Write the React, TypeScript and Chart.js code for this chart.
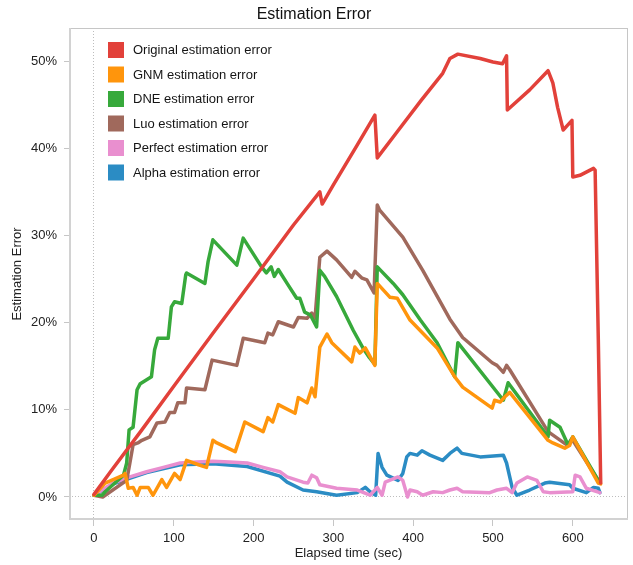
import React, { useEffect, useRef } from "react";
import { Chart, registerables } from "chart.js";

Chart.register(...registerables);

const FONT = "'Liberation Sans', Arial, Helvetica, sans-serif";

// Tick labels
const xTicks = [0, 100, 200, 300, 400, 500, 600];
const yTicks = [0, 10, 20, 30, 40, 50];

// Series names
const seriesNames = [
  "Original estimation error",
  "GNM estimation error",
  "DNE estimation error",
  "Luo estimation error",
  "Perfect estimation error",
  "Alpha estimation error",
];
const seriesColors = ["#e2413a", "#ff950c", "#37a93b", "#a0695c", "#e98fcf", "#2b8cc4"];

// Original (red)
const originalT = [0, 20, 60, 100, 150, 200, 250, 283, 286, 300, 330, 352, 355, 380, 410, 437, 446, 456, 484, 500, 512, 517, 518, 546, 569, 575, 581, 588, 593, 599, 600, 609, 626, 628, 632, 635];
const originalV = [0.3, 2.8, 7.7, 12.7, 18.9, 25.0, 31.2, 35.0, 33.6, 35.8, 40.4, 43.8, 38.9, 41.9, 45.5, 48.6, 50.3, 50.8, 50.3, 49.9, 49.7, 50.6, 44.4, 46.7, 48.9, 47.5, 44.7, 42.1, 42.6, 43.2, 36.7, 36.9, 37.7, 37.5, 18.0, 1.6];

// GNM (orange)
const gnmT = [0, 14, 37, 39, 43, 49, 54, 58, 68, 74, 85, 91, 101, 108, 116, 131, 141, 149, 154, 177, 189, 212, 218, 224, 231, 252, 256, 267, 273, 277, 283, 292, 298, 323, 327, 333, 340, 352, 355, 371, 380, 396, 430, 452, 462, 499, 502, 509, 515, 521, 569, 575, 590, 596, 600, 632, 635];
const gnmV = [0.2, 1.6, 2.5, 2.7, 1.0, 1.1, 0.2, 1.1, 1.1, 0.2, 2.0, 1.1, 2.7, 2.0, 4.2, 3.7, 3.4, 6.5, 6.2, 5.2, 8.6, 7.5, 9.1, 8.6, 10.6, 9.6, 11.4, 10.8, 12.5, 11.5, 17.2, 18.7, 17.7, 15.5, 17.2, 16.5, 17.1, 15.1, 24.5, 22.9, 22.8, 20.3, 17.1, 13.8, 12.6, 10.2, 11.1, 10.9, 11.5, 12.0, 6.5, 6.2, 5.6, 5.9, 6.9, 1.6, 1.5];

// DNE (green)
const dneT = [0, 10, 14, 37, 41, 44, 49, 54, 58, 72, 76, 80, 93, 97, 101, 110, 115, 116, 139, 143, 149, 179, 187, 210, 216, 222, 226, 231, 242, 254, 258, 264, 271, 279, 283, 289, 304, 325, 337, 345, 352, 355, 375, 387, 409, 430, 452, 456, 513, 519, 569, 571, 584, 594, 600, 634];
const dneV = [0.2, 0.2, 0.6, 2.5, 3.9, 7.7, 8.0, 12.3, 13.0, 13.8, 16.9, 18.2, 18.2, 21.8, 22.4, 22.2, 25.5, 25.7, 24.5, 27.0, 29.5, 26.6, 29.7, 26.4, 25.7, 26.4, 25.3, 26.1, 24.5, 22.8, 22.8, 21.2, 20.9, 19.5, 26.0, 25.3, 23.0, 19.1, 17.1, 16.0, 15.2, 26.4, 24.5, 23.2, 20.3, 17.7, 13.8, 17.7, 11.1, 13.1, 6.9, 8.8, 8.0, 6.0, 6.9, 1.6];

// Luo (brown)
const luoT = [0, 11, 41, 45, 49, 55, 60, 70, 79, 89, 95, 101, 105, 114, 116, 139, 148, 179, 187, 214, 218, 224, 231, 250, 256, 267, 273, 277, 283, 292, 304, 323, 327, 336, 342, 351, 355, 358, 387, 412, 446, 462, 499, 505, 513, 517, 521, 569, 592, 600, 634];
const luoV = [0.2, 0.0, 1.9, 3.9, 6.0, 6.2, 6.5, 6.9, 8.5, 8.6, 9.7, 9.7, 10.8, 10.8, 12.5, 12.3, 15.7, 15.1, 18.2, 17.7, 18.8, 18.6, 20.1, 19.5, 20.6, 20.5, 21.1, 20.5, 27.5, 28.2, 27.2, 25.2, 25.9, 25.1, 24.9, 23.4, 33.5, 32.9, 29.8, 26.0, 20.4, 18.3, 15.4, 15.1, 14.3, 15.1, 14.6, 7.5, 6.0, 6.5, 1.6];

// Perfect (pink)
const perfectT = [0, 24, 45, 66, 87, 108, 129, 149, 170, 192, 212, 233, 242, 262, 268, 273, 279, 283, 304, 330, 346, 355, 361, 365, 381, 387, 393, 396, 405, 412, 425, 437, 446, 455, 462, 496, 505, 517, 524, 530, 543, 555, 563, 571, 600, 603, 609, 617, 634];
const perfectV = [0.2, 1.6, 2.3, 2.9, 3.4, 3.9, 4.0, 4.1, 4.0, 3.9, 3.4, 2.9, 2.3, 1.7, 1.6, 2.5, 2.2, 1.4, 1.0, 0.8, 0.2, 1.1, 0.2, 1.7, 2.3, 1.9, 0.0, 0.8, 0.6, 0.2, 0.6, 0.5, 0.8, 1.0, 0.6, 0.5, 0.8, 1.0, 0.5, 1.6, 2.3, 1.9, 0.6, 0.5, 0.6, 2.5, 2.3, 1.0, 0.5];

// Alpha (blue)
const alphaT = [0, 24, 66, 108, 149, 192, 233, 242, 262, 279, 304, 330, 340, 346, 353, 356, 361, 367, 381, 387, 392, 396, 405, 411, 421, 437, 446, 455, 461, 484, 513, 517, 524, 530, 546, 565, 571, 596, 600, 617, 626, 632, 634];
const alphaV = [0.2, 1.5, 2.8, 3.7, 3.8, 3.5, 2.4, 1.7, 0.8, 0.6, 0.2, 0.5, 1.1, 0.6, 0.2, 5.0, 3.4, 2.5, 1.9, 2.7, 4.6, 5.0, 4.8, 5.3, 4.8, 4.2, 5.0, 5.6, 5.0, 4.6, 4.8, 3.9, 1.1, 0.2, 0.8, 1.6, 1.7, 1.4, 1.0, 0.5, 1.1, 1.0, 0.5];

const seriesT = [originalT, gnmT, dneT, luoT, perfectT, alphaT];
const seriesV = [originalV, gnmV, dneV, luoV, perfectV, alphaV];

const panelPlugin = {
  id: "panelBorder",
  beforeDatasetsDraw(chart: any) {
    const { ctx, chartArea: a } = chart;
    ctx.save();
    ctx.strokeStyle = "#c6c6c6";
    ctx.lineWidth = 1;
    ctx.strokeRect(a.left + 0.5, a.top + 0.5, a.right - a.left - 1, a.bottom - a.top - 1);
    ctx.lineWidth = 2;
    ctx.strokeStyle = "#d2d2d2";
    ctx.beginPath();
    ctx.moveTo(a.left + 1, a.top);
    ctx.lineTo(a.left + 1, a.bottom - 1);
    ctx.lineTo(a.right, a.bottom - 1);
    ctx.stroke();
    ctx.restore();
  },
};

const legendPlugin = {
  id: "insideLegend",
  afterDatasetsDraw(chart: any) {
    const { ctx } = chart;
    ctx.save();
    ctx.font = `13px ${FONT}`;
    ctx.textBaseline = "middle";
    ctx.textAlign = "left";
    seriesNames.forEach((name, i) => {
      const cy = 50 + i * 24.5;
      ctx.fillStyle = seriesColors[i];
      ctx.fillRect(108, cy - 8, 16, 16);
      ctx.fillStyle = "#151515";
      ctx.fillText(name, 133, cy + 0.5);
    });
    ctx.restore();
  },
};

export default function App() {
  const ref = useRef<HTMLCanvasElement>(null);
  useEffect(() => {
    Chart.defaults.font.family = FONT;
    const datasets = seriesNames.map((name, i) => ({
      label: name,
      data: seriesT[i].map((t, j) => ({ x: t, y: seriesV[i][j] })),
      borderColor: seriesColors[i],
      backgroundColor: seriesColors[i],
      borderWidth: 3.5,
      pointRadius: 0,
      tension: 0,
      fill: false,
      borderJoinStyle: "round" as const,
      borderCapStyle: "round" as const,
    }));
    const zeroGrid = (c: any) => (c.tick && c.tick.value === 0 ? "#bdbdbd" : "rgba(0,0,0,0)");
    const chart = new Chart(ref.current!, {
      type: "line",
      data: { datasets },
      plugins: [panelPlugin, legendPlugin],
      options: {
        animation: false,
        responsive: false,
        layout: { padding: { left: 0, right: 5, top: 0, bottom: 0 } },
        plugins: {
          legend: { display: false },
          tooltip: { enabled: false },
          title: {
            display: true,
            text: "Estimation Error",
            color: "#111",
            font: { size: 16, weight: "normal", family: FONT },
            padding: { top: 5, bottom: 3.8 },
          },
        },
        scales: {
          x: {
            type: "linear",
            min: -31.3,
            max: 669.2,
            afterBuildTicks: (s: any) => {
              s.ticks = xTicks.map((v) => ({ value: v }));
            },
            afterFit: (s: any) => {
              s.height = 45;
            },
            grid: { color: zeroGrid, tickColor: "#c6c6c6", tickLength: 6, lineWidth: 1 },
            border: { display: false, dash: [1, 2] },
            ticks: { color: "#222", font: { size: 13 }, padding: 5, maxRotation: 0 },
            title: {
              display: true,
              text: "Elapsed time (sec)",
              color: "#222",
              font: { size: 13 },
              padding: { top: 0, bottom: 4 },
            },
          },
          y: {
            type: "linear",
            min: -2.64,
            max: 53.8,
            afterBuildTicks: (s: any) => {
              s.ticks = yTicks.map((v) => ({ value: v }));
            },
            afterFit: (s: any) => {
              s.width = 69;
            },
            grid: { color: zeroGrid, tickColor: "#c6c6c6", tickLength: 5, lineWidth: 1 },
            border: { display: false, dash: [1, 2] },
            ticks: {
              color: "#222",
              font: { size: 13 },
              padding: 7,
              callback: (v: any) => `${v}%`,
            },
            title: {
              display: true,
              text: "Estimation Error",
              color: "#222",
              font: { size: 13 },
              padding: { top: 10, bottom: 0 },
            },
          },
        },
      },
    } as any);
    return () => chart.destroy();
  }, []);
  return (
    <div style={{ position: "absolute", left: 0, top: 0, width: 633, height: 565 }}>
      <canvas ref={ref} width={633} height={565} style={{ display: "block" }} />
    </div>
  );
}
